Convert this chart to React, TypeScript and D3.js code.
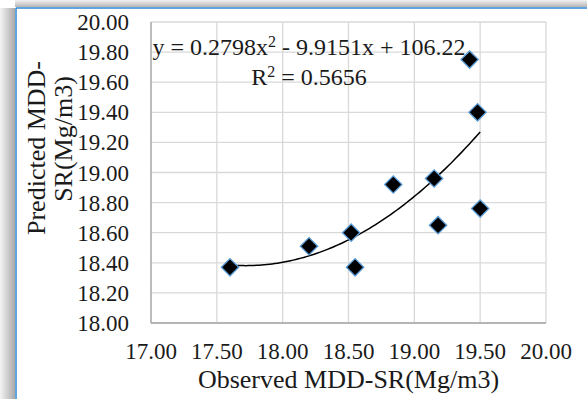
import React from "react";
import * as d3 from "d3";

// Observed vs predicted MDD-SR (Mg/m3)
const observed = [17.6, 18.2, 18.52, 18.55, 18.84, 19.15, 19.18, 19.42, 19.48, 19.5];
const predicted = [18.37, 18.51, 18.6, 18.37, 18.92, 18.96, 18.65, 19.75, 19.4, 18.76];

// polynomial trendline coefficients (a x^2 + b x + c) and R^2 as printed
const trendCoef = [0.2798, -9.9151, 106.22];
const trendRange = [17.6, 19.5];
const equationText = ["y = 0.2798x", "2", " - 9.9151x + 106.22"];
const r2Text = ["R", "2", " = 0.5656"];

const xTicks = [17, 17.5, 18, 18.5, 19, 19.5, 20];
const yTicks = [18, 18.2, 18.4, 18.6, 18.8, 19, 19.2, 19.4, 19.6, 19.8, 20];

const xTitle = "Observed MDD-SR(Mg/m3)";
const yTitleLines = ["Predicted MDD-", "SR(Mg/m3)"];

const W = 587;
const H = 399;
const FONT = "'Liberation Serif', 'Times New Roman', serif";

export default function App() {
  const margin = { left: 151, right: 41, top: 22, bottom: 76 };

  const x = d3.scaleLinear().domain([17, 20]).range([margin.left, W - margin.right]);
  const y = d3.scaleLinear().domain([18, 20]).range([H - margin.bottom, margin.top]);

  const [a, b, c] = trendCoef;
  const trendX = d3.range(trendRange[0], trendRange[1] + 0.0001, 0.02);
  const trendLine = d3
    .line<number>()
    .x((d) => x(d))
    .y((d) => y(a * d * d + b * d + c));

  const diamond = d3.symbol().type(d3.symbolSquare).size(150)();

  const points = observed.map((o, i) => ({ o, p: predicted[i] }));

  return (
    <svg
      width={W}
      height={H}
      style={{ position: "absolute", left: 0, top: 0, background: "#fff" }}
      fontFamily={FONT}
    >
      <defs>
        <linearGradient id="shadeLeft" x1="0" y1="0" x2="1" y2="0">
          <stop offset="0%" stopColor="#f4f4f4" />
          <stop offset="100%" stopColor="#a9a9a9" />
        </linearGradient>
        <linearGradient id="shadeTop" x1="0" y1="0" x2="0" y2="1">
          <stop offset="0%" stopColor="#f2f2f2" />
          <stop offset="100%" stopColor="#b5b5b5" />
        </linearGradient>
      </defs>

      {/* window frame */}
      <rect x={0} y={8} width={15} height={H - 8} fill="url(#shadeLeft)" />
      <rect x={15} y={0} width={W - 15} height={7} fill="url(#shadeTop)" />
      <line x1={16} x2={16} y1={8} y2={H} stroke="#2e86d4" strokeWidth={1.5} />
      <line x1={16} x2={W} y1={8} y2={8} stroke="#2e86d4" strokeWidth={1.5} />

      {/* gridlines */}
      {xTicks.map((t) => (
        <line key={"gx" + t} x1={x(t)} x2={x(t)} y1={y(18)} y2={y(20)} stroke="#d9d9d9" strokeWidth={1.3} />
      ))}
      {yTicks.map((t) => (
        <line key={"gy" + t} x1={x(17)} x2={x(20)} y1={y(t)} y2={y(t)} stroke="#d9d9d9" strokeWidth={1.3} />
      ))}
      {/* axis lines */}
      <line x1={x(17)} x2={x(17)} y1={y(18)} y2={y(20)} stroke="#a6a6a6" strokeWidth={1.3} />
      <line x1={x(17)} x2={x(20)} y1={y(18)} y2={y(18)} stroke="#a6a6a6" strokeWidth={1.3} />

      {/* tick labels */}
      {yTicks.map((t) => (
        <text
          key={"ty" + t}
          x={129}
          y={y(t)}
          dy="0.35em"
          textAnchor="end"
          fontSize={23}
          fill="#1a1a1a"
        >
          {d3.format(".2f")(t)}
        </text>
      ))}
      {xTicks.map((t) => (
        <text key={"tx" + t} x={x(t)} y={359} textAnchor="middle" fontSize={23} fill="#1a1a1a">
          {d3.format(".2f")(t)}
        </text>
      ))}

      {/* axis titles */}
      <text x={(x(17) + x(20)) / 2} y={388} textAnchor="middle" fontSize={26} fill="#1a1a1a">
        {xTitle}
      </text>
      <text transform="translate(45,148) rotate(-90)" textAnchor="middle" fontSize={26} fill="#1a1a1a">
        {yTitleLines[0]}
      </text>
      <text transform="translate(72,139) rotate(-90)" textAnchor="middle" fontSize={26} fill="#1a1a1a">
        {yTitleLines[1]}
      </text>

      {/* trendline */}
      <path d={trendLine(trendX) ?? ""} fill="none" stroke="#000" strokeWidth={1.5} />

      {/* points */}
      {points.map((d, i) => (
        <path
          key={i}
          d={diamond ?? ""}
          transform={`translate(${x(d.o)},${y(d.p)}) rotate(45)`}
          fill="#000"
          stroke="#5b9bd5"
          strokeWidth={1.3}
        />
      ))}

      {/* equation label */}
      <text x={309} y={55} textAnchor="middle" fontSize={24} fill="#1a1a1a">
        {equationText[0]}
        <tspan dy={-8} fontSize={16}>{equationText[1]}</tspan>
        <tspan dy={8}>{equationText[2]}</tspan>
      </text>
      <text x={309} y={85} textAnchor="middle" fontSize={24} fill="#1a1a1a">
        {r2Text[0]}
        <tspan dy={-8} fontSize={16}>{r2Text[1]}</tspan>
        <tspan dy={8}>{r2Text[2]}</tspan>
      </text>
    </svg>
  );
}
